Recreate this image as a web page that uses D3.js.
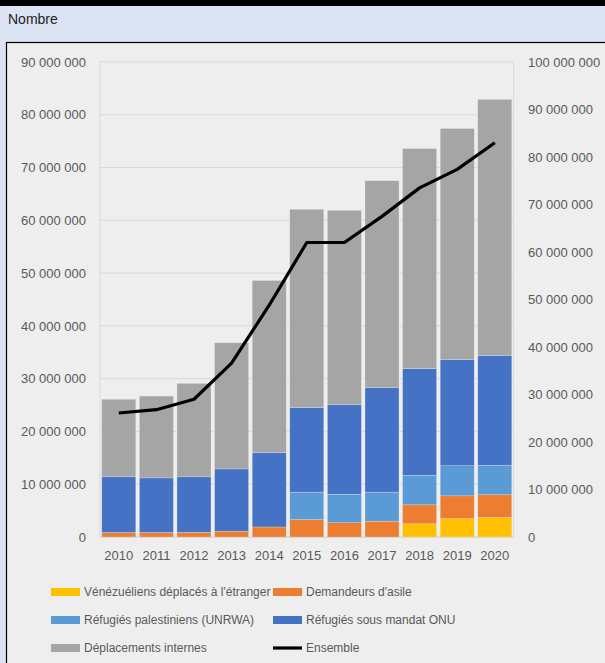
<!DOCTYPE html>
<html><head><meta charset="utf-8">
<script src="https://cdn.jsdelivr.net/npm/d3@7"></script>
<style>
body{margin:0;padding:0;background:#dce3f3;}
svg{display:block;font-family:"Liberation Sans",Arial,sans-serif;}
</style></head>
<body>
<svg id="chart" width="605" height="663"></svg>
<script>
const years = ["2010","2011","2012","2013","2014","2015","2016","2017","2018","2019","2020"];
const venezueliens = [0,0,0,0,0,0,0,0,2.5e6,3.5e6,3.7e6];
const demandeurs = [0.85e6,0.85e6,0.9e6,1.1e6,1.9e6,3.3e6,2.7e6,3.0e6,3.6e6,4.3e6,4.3e6];
const palestiniens = [0,0,0,0,0,5.2e6,5.4e6,5.5e6,5.6e6,5.7e6,5.6e6];
const mandatONU = [10.55e6,10.35e6,10.5e6,11.8e6,14.1e6,16.0e6,17.0e6,19.8e6,20.2e6,20.1e6,20.8e6];
const internes = [14.7e6,15.5e6,17.7e6,23.9e6,32.6e6,37.6e6,36.8e6,39.2e6,41.7e6,43.8e6,48.5e6];
const ensemble = [26.1e6,26.8e6,29.0e6,36.6e6,48.8e6,62.0e6,62.0e6,67.5e6,73.5e6,77.4e6,83.0e6];
const leftTicks = [0,10e6,20e6,30e6,40e6,50e6,60e6,70e6,80e6,90e6];
const rightTicks = [0,10e6,20e6,30e6,40e6,50e6,60e6,70e6,80e6,90e6,100e6];
const seriesNames = ["Vénézuéliens déplacés à l'étranger","Demandeurs d'asile","Réfugiés palestiniens (UNRWA)","Réfugiés sous mandat ONU","Déplacements internes"];
const seriesColors = ["#ffc000","#ed7d31","#5b9bd5","#4472c4","#a5a5a5"];
const lineName = "Ensemble";

const svg = d3.select("#chart");
// top black strip
svg.append("rect").attr("x",0).attr("y",0).attr("width",605).attr("height",6).attr("fill","#000");
svg.append("text").attr("x",8).attr("y",24).attr("font-size",14).attr("fill","#222").text("Nombre");
// chart box
svg.append("rect").attr("x",6.5).attr("y",42.5).attr("width",610).attr("height",640)
  .attr("fill","#eeeeee").attr("stroke","#000").attr("stroke-width",1.2);

const plotTop = 62, plotBottom = 537, plotLeft = 100, plotRight = 513.6;
const x = d3.scaleBand().domain(years).range([plotLeft, plotRight]).paddingInner(0.096).paddingOuter(0.048);
const yL = d3.scaleLinear().domain([0,90e6]).range([plotBottom, plotTop]);
const yR = d3.scaleLinear().domain([0,100e6]).range([plotBottom, plotTop]);
const fmt = v => d3.format(",")(v).replace(/,/g," ");

// gridlines
svg.append("g").selectAll("line").data(leftTicks).join("line")
  .attr("x1",plotLeft).attr("x2",plotRight).attr("y1",d=>yL(d)).attr("y2",d=>yL(d))
  .attr("stroke","#d9d9d9").attr("stroke-width",1);
svg.append("line").attr("x1",plotLeft).attr("x2",plotLeft).attr("y1",plotTop).attr("y2",plotBottom).attr("stroke","#d9d9d9");
svg.append("line").attr("x1",plotRight).attr("x2",plotRight).attr("y1",plotTop).attr("y2",plotBottom).attr("stroke","#d9d9d9");

// left axis
const axL = d3.axisLeft(yL).tickValues(leftTicks).tickFormat(fmt).tickSize(0).tickPadding(0);
const gL = svg.append("g").attr("transform","translate(86,0)").call(axL);
gL.select(".domain").remove();
gL.selectAll("text").attr("font-size",13).attr("fill","#595959").attr("font-family","Liberation Sans, Arial, sans-serif");
// right axis
const axR = d3.axisRight(yR).tickValues(rightTicks).tickFormat(fmt).tickSize(0).tickPadding(0);
const gR = svg.append("g").attr("transform","translate(528,0)").call(axR);
gR.select(".domain").remove();
gR.selectAll("text").attr("font-size",13).attr("fill","#595959").attr("font-family","Liberation Sans, Arial, sans-serif");
// x axis
const axX = d3.axisBottom(x).tickSize(0).tickPadding(0);
const gX = svg.append("g").attr("transform",`translate(0,${plotBottom+14})`).call(axX);
gX.select(".domain").remove();
gX.selectAll("text").attr("font-size",13).attr("fill","#595959").attr("font-family","Liberation Sans, Arial, sans-serif");
svg.append("line").attr("x1",plotLeft).attr("x2",plotRight).attr("y1",plotBottom+0.5).attr("y2",plotBottom+0.5).attr("stroke","#d9d9d9");

// stacked bars
const rows = years.map((yr,i)=>({year:yr, s0:venezueliens[i], s1:demandeurs[i], s2:palestiniens[i], s3:mandatONU[i], s4:internes[i]}));
const stack = d3.stack().keys(["s0","s1","s2","s3","s4"])(rows);
svg.append("g").selectAll("g").data(stack).join("g")
  .attr("fill",(d,i)=>seriesColors[i])
  .selectAll("rect").data(d=>d).join("rect")
  .attr("x",d=>x(d.data.year)).attr("width",x.bandwidth())
  .attr("y",d=>yL(d[1])).attr("height",d=>Math.max(0,yL(d[0])-yL(d[1])))
  .attr("stroke","#e8e8e8").attr("stroke-width",0.5).attr("stroke-opacity",d=>d[1]-d[0]>0?0.6:0);

// line
const line = d3.line().x((d,i)=>x(years[i])+x.bandwidth()/2).y(d=>yR(d));
svg.append("path").datum(ensemble).attr("d",line).attr("fill","none")
  .attr("stroke","#000").attr("stroke-width",3.2).attr("stroke-linejoin","round");

// legend
const legendItems = [
  {name:seriesNames[0], color:seriesColors[0], type:"rect", x:51, y:592},
  {name:seriesNames[1], color:seriesColors[1], type:"rect", x:273, y:592},
  {name:seriesNames[2], color:seriesColors[2], type:"rect", x:51, y:620},
  {name:seriesNames[3], color:seriesColors[3], type:"rect", x:273, y:620},
  {name:seriesNames[4], color:seriesColors[4], type:"rect", x:51, y:648},
  {name:lineName, color:"#000", type:"line", x:273, y:648}
];
const lg = svg.append("g").selectAll("g").data(legendItems).join("g")
  .attr("transform",d=>`translate(${d.x},${d.y})`);
lg.filter(d=>d.type==="rect").append("rect").attr("x",0).attr("y",-4).attr("width",29).attr("height",8).attr("fill",d=>d.color);
lg.filter(d=>d.type==="line").append("line").attr("x1",0).attr("x2",29).attr("y1",0).attr("y2",0).attr("stroke","#000").attr("stroke-width",3.2);
lg.append("text").attr("x",33).attr("y",0).attr("dy","0.35em").attr("font-size",12).attr("fill","#595959").text(d=>d.name);
</script>
</body></html>
